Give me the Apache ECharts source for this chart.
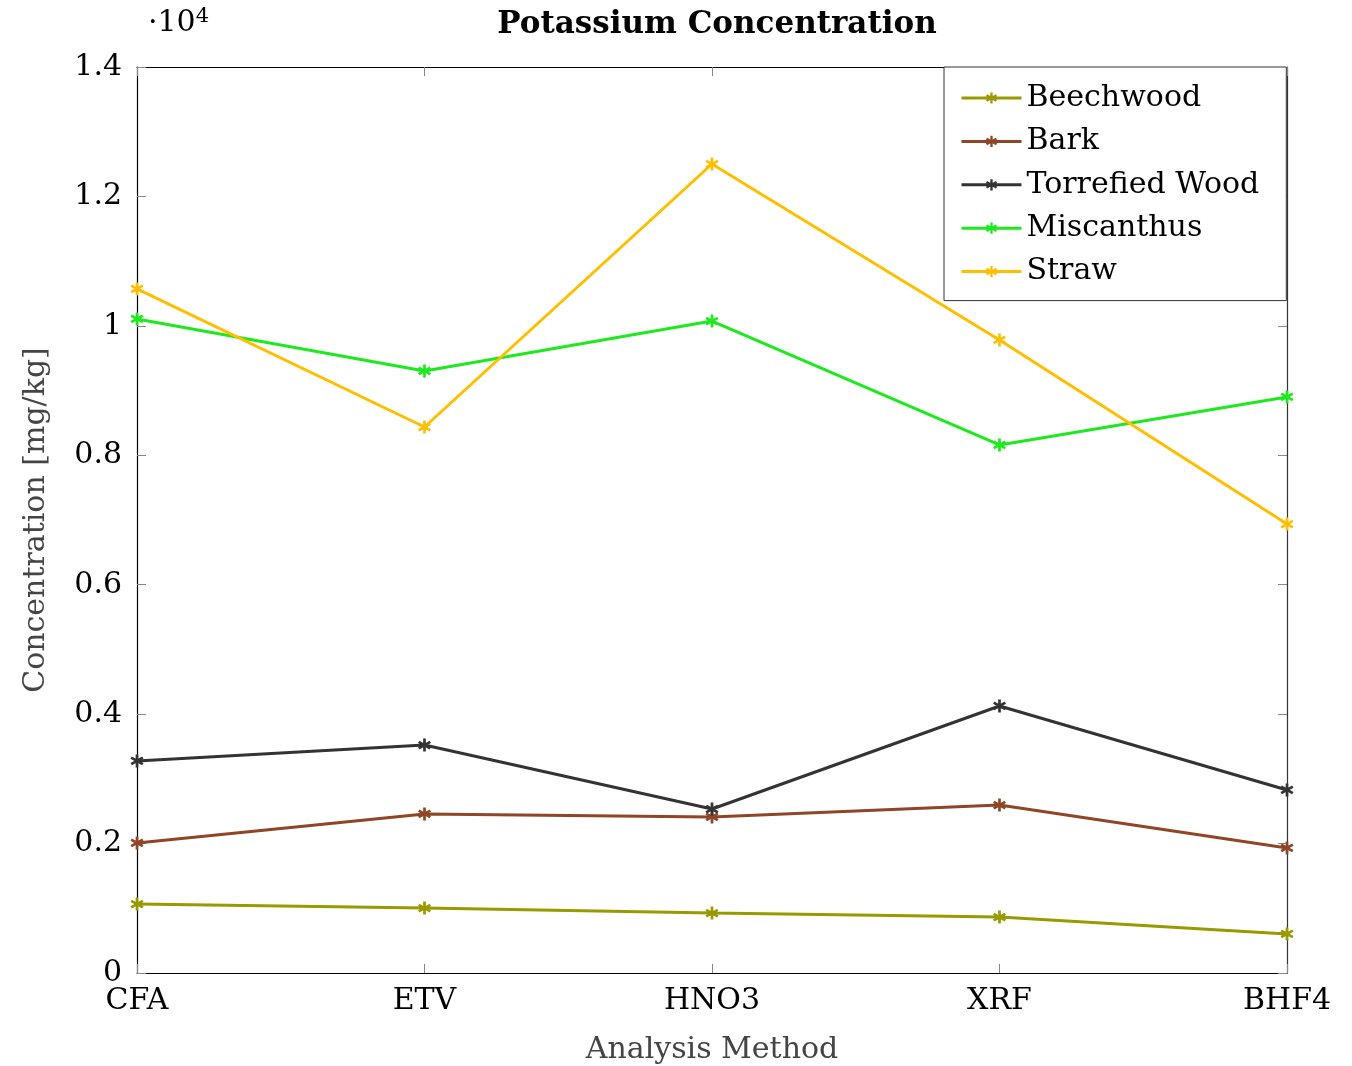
<!DOCTYPE html>
<html>
<head>
<meta charset="utf-8">
<title>Potassium Concentration</title>
<script src="https://cdn.jsdelivr.net/npm/echarts@6/dist/echarts.min.js"></script>
<style>
  html, body { margin: 0; padding: 0; background: #fff; }
  #chart { width: 1352px; height: 1066px; }
</style>
</head>
<body>
<div id="chart"></div>
<script>
// Analysis methods along the x axis
const methods = ['CFA', 'ETV', 'HNO3', 'XRF', 'BHF4'];

// Potassium concentration per fuel, mg/kg
const beechwood = [1066, 1004, 927, 865, 603];
const bark = [2009, 2457, 2411, 2596, 1932];
const torrefiedWood = [3276, 3523, 2534, 4126, 2828];
const miscanthus = [10106, 9303, 10075, 8159, 8901];
const straw = [10570, 8437, 12501, 9782, 6938];

const seriesNames = ['Beechwood', 'Bark', 'Torrefied Wood', 'Miscanthus', 'Straw'];
const seriesData = [beechwood, bark, torrefiedWood, miscanthus, straw];
const seriesColors = ['#999900', '#8f4526', '#333333', '#1ee81e', '#ffbf00'];

// six-armed asterisk marker
const asterisk = 'path://M8,0L12,0L12,20L8,20Z M0.34,6.73L2.34,3.27L19.66,13.27L17.66,16.73Z M17.66,3.27L19.66,6.73L2.34,16.73L0.34,13.27Z';

const serif = '"DejaVu Serif", "Liberation Serif", serif';
const fs = 30;

const chart = echarts.init(document.getElementById('chart'));

chart.setOption({
  animation: false,
  backgroundColor: '#ffffff',
  title: {
    text: 'Potassium Concentration',
    left: 712,
    textAlign: 'center',
    top: 4,
    textStyle: { fontFamily: serif, fontWeight: 'bold', fontSize: 31, color: '#000' }
  },
  grid: { left: 137, right: 65, top: 67, bottom: 93, containLabel: false, outerBoundsMode: 'none' },
  legend: {
    orient: 'vertical',
    left: 944,
    top: 67,
    padding: [16, 27, 14, 16],
    itemGap: 13.4,
    itemWidth: 60,
    itemHeight: 14,
    itemTextGap: 10,
    borderColor: '#333',
    borderWidth: 1,
    backgroundColor: '#fff',
    lineStyle: { width: 3 },
    textStyle: { fontFamily: serif, fontSize: fs, lineHeight: 30, color: '#000' },
    data: seriesNames
  },
  graphic: [{
    type: 'text',
    left: 148,
    top: 6,
    style: {
      text: '·10{sup|4}',
      fontFamily: serif,
      fontSize: fs,
      fill: '#000',
      rich: { sup: { fontSize: 21, verticalAlign: 'top', padding: [0, 0, 14, 0], fontFamily: serif } }
    }
  }],
  xAxis: [{
    type: 'category',
    data: methods,
    boundaryGap: false,
    name: 'Analysis Method',
    nameLocation: 'middle',
    nameGap: 62,
    nameTextStyle: { fontFamily: serif, fontSize: fs, color: '#444' },
    axisLine: { show: true, onZero: false, lineStyle: { color: '#000', width: 1.2 } },
    axisTick: { show: true, inside: true, length: 9, lineStyle: { color: '#888' } },
    axisLabel: { fontFamily: serif, fontSize: fs, color: '#000', margin: 13 },
    splitLine: { show: false }
  }, {
    type: 'category',
    data: methods,
    boundaryGap: false,
    position: 'top',
    axisLine: { show: true, onZero: false, lineStyle: { color: '#000', width: 1.2 } },
    axisTick: { show: true, inside: true, length: 9, lineStyle: { color: '#888' } },
    axisLabel: { show: false },
    splitLine: { show: false }
  }],
  yAxis: [{
    type: 'value',
    min: 0,
    max: 14000,
    interval: 2000,
    name: 'Concentration [mg/kg]',
    nameLocation: 'middle',
    nameGap: 86,
    nameTextStyle: { fontFamily: serif, fontSize: fs, color: '#444' },
    axisLine: { show: true, onZero: false, lineStyle: { color: '#000', width: 1.2 } },
    axisTick: { show: true, inside: true, length: 9, lineStyle: { color: '#888' } },
    axisLabel: {
      fontFamily: serif, fontSize: fs, color: '#000', margin: 15,
      formatter: v => String(Math.round(v / 1000) / 10)
    },
    splitLine: { show: false }
  }, {
    type: 'value',
    min: 0,
    max: 14000,
    interval: 2000,
    position: 'right',
    axisLine: { show: true, onZero: false, lineStyle: { color: '#333', width: 1.2 } },
    axisTick: { show: true, inside: true, length: 9, lineStyle: { color: '#888' } },
    axisLabel: { show: false },
    splitLine: { show: false }
  }],
  series: seriesNames.map((name, i) => ({
    name: name,
    type: 'line',
    data: seriesData[i],
    xAxisIndex: 0,
    yAxisIndex: 0,
    symbol: asterisk,
    symbolSize: 13,
    showAllSymbol: true,
    color: seriesColors[i],
    lineStyle: { color: seriesColors[i], width: 3 },
    itemStyle: { color: seriesColors[i] },
    z: 2 + i
  }))
});
</script>
</body>
</html>
